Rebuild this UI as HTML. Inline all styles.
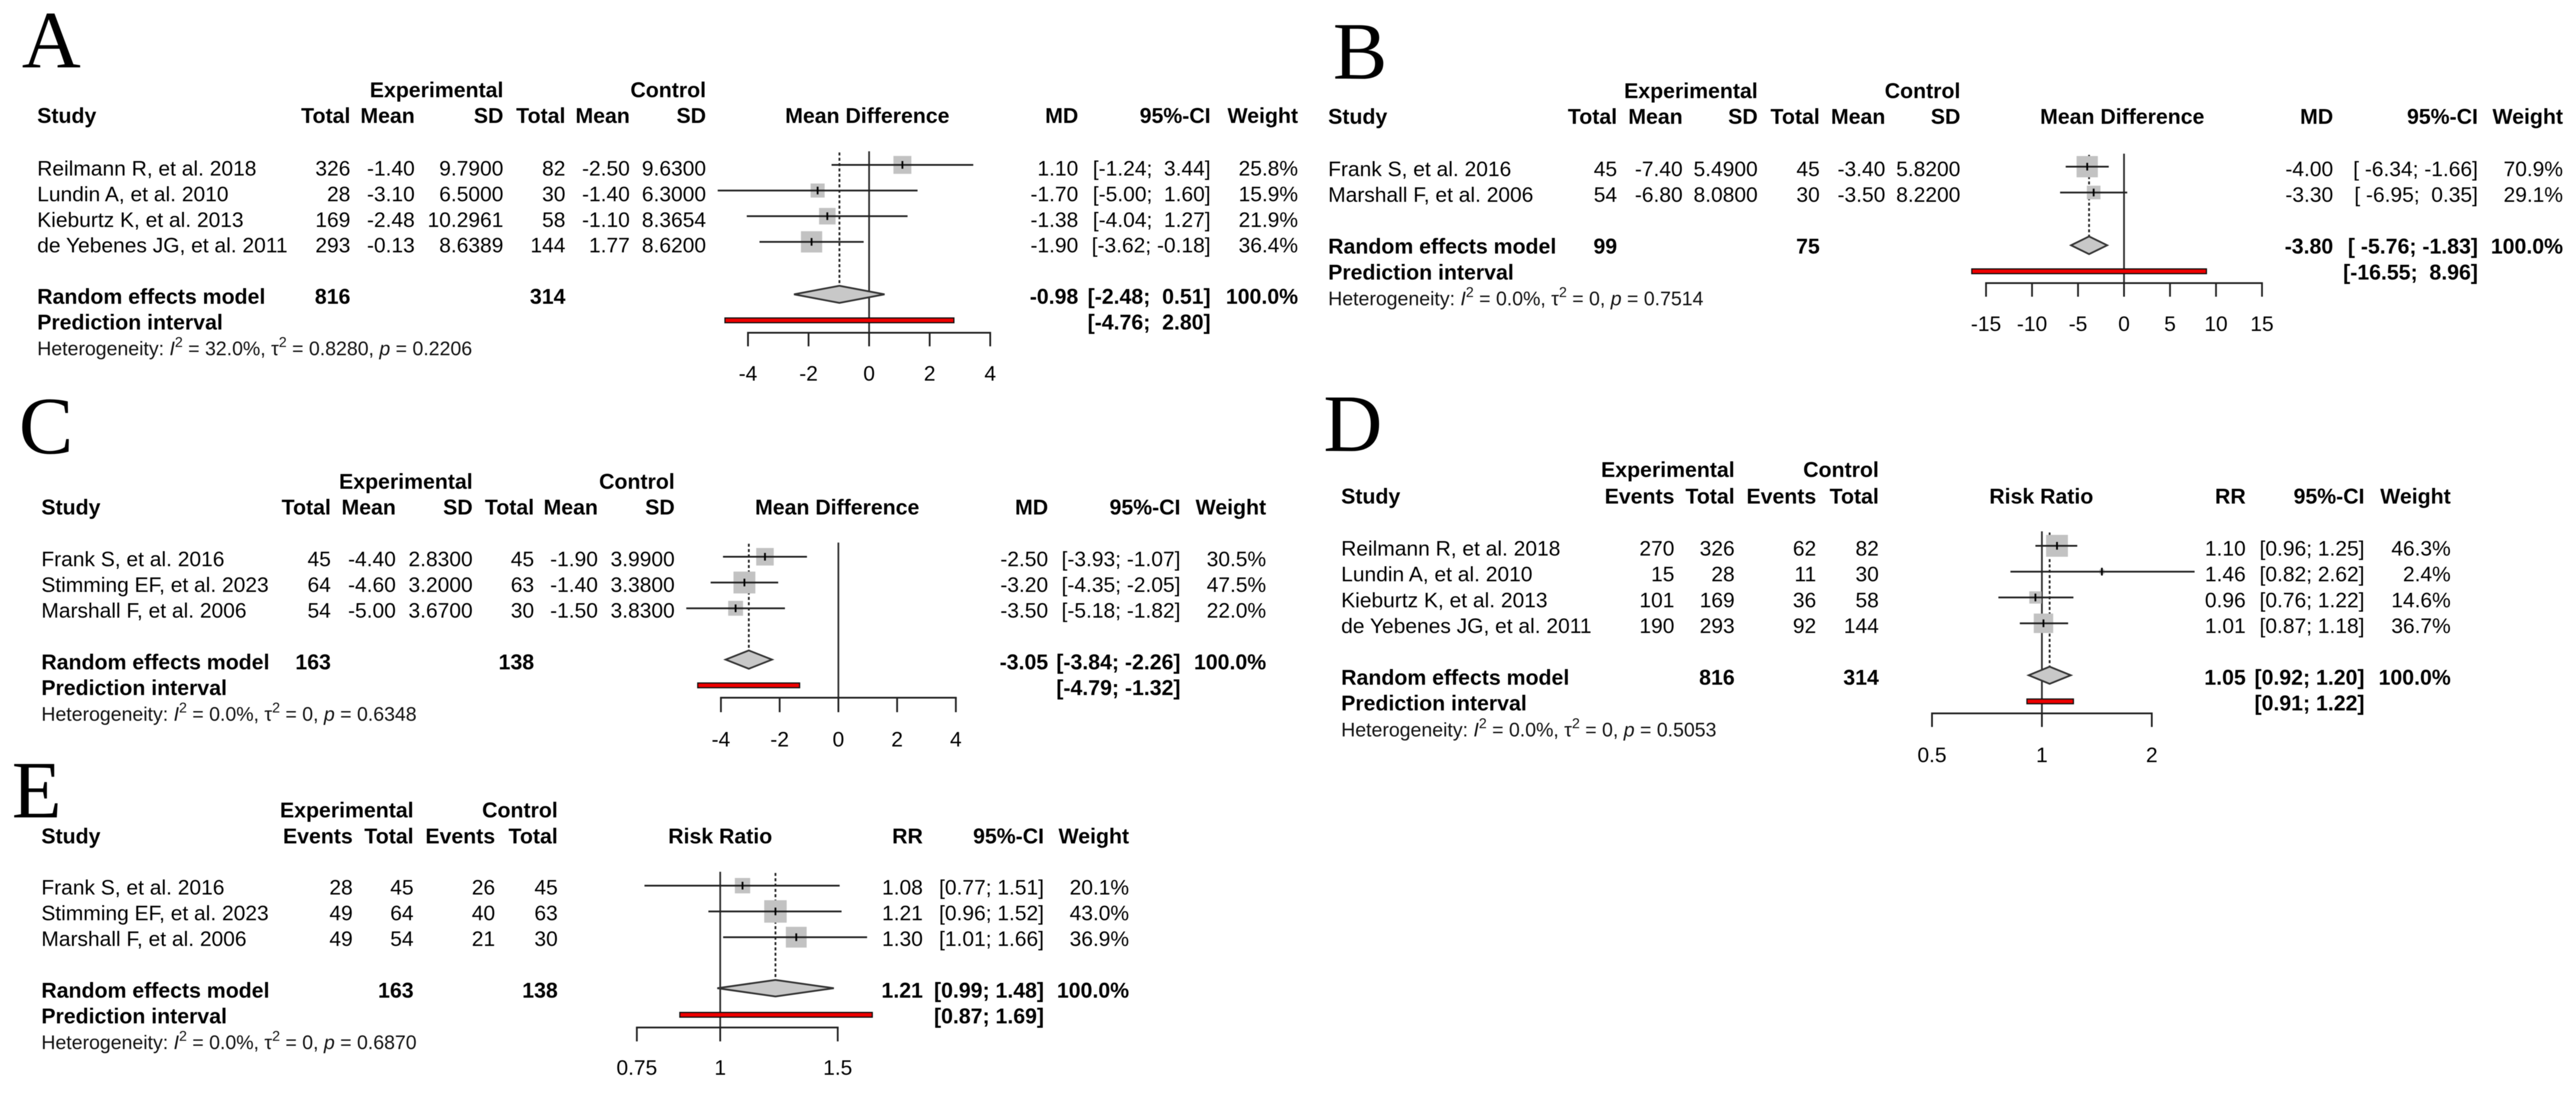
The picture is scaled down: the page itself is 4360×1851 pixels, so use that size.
<!DOCTYPE html>
<html lang="en">
<head>
<meta charset="utf-8">
<title>Forest plots A-E</title>
<style>
html,body{margin:0;padding:0;background:#fff;}
svg{display:block;filter:blur(0.5px);}
text{font-family:"Liberation Sans",sans-serif;font-size:35.5px;fill:#000;white-space:pre;}
text.b{font-weight:bold;font-size:36px;fill:#000;}
text.het{font-size:33px;fill:#111;}
text.letter{font-family:"Liberation Serif",serif;font-size:138px;fill:#000;}
</style>
</head>
<body>
<svg id="chart" xmlns="http://www.w3.org/2000/svg" width="4360" height="1851" viewBox="0 0 4360 1851">
<rect x="0" y="0" width="4360" height="1851" fill="#ffffff"/>
<g id="panel-a"></g>
<g id="panel-b"></g>
<g id="panel-c"></g>
<g id="panel-d"></g>
<g id="panel-e"></g>
</svg>
<script>
/* ---------- Panel A data ---------- */
const aStudies = ["Reilmann R, et al. 2018","Lundin A, et al. 2010","Kieburtz K, et al. 2013","de Yebenes JG, et al. 2011"];
const aCol1 = ["326","28","169","293"];
const aCol2 = ["-1.40","-3.10","-2.48","-0.13"];
const aCol3 = ["9.7900","6.5000","10.2961","8.6389"];
const aCol4 = ["82","30","58","144"];
const aCol5 = ["-2.50","-1.40","-1.10","1.77"];
const aCol6 = ["9.6300","6.3000","8.3654","8.6200"];
const aEffect = [1.10,-1.70,-1.38,-1.90];
const aLow = [-1.24,-5.00,-4.04,-3.62];
const aHigh = [3.44,1.60,1.27,-0.18];
const aWeight = [25.8,15.9,21.9,36.4];
const aSummary = [-0.98,-2.48,0.51];
const aPrediction = [-4.76,2.80];
const aTotals = ["816","314"];
const aTicks = [-4,-2,0,2,4];
const aHet = ["32.0%","0.8280","0.2206"];

/* ---------- Panel B data ---------- */
const bStudies = ["Frank S, et al. 2016","Marshall F, et al. 2006"];
const bCol1 = ["45","54"];
const bCol2 = ["-7.40","-6.80"];
const bCol3 = ["5.4900","8.0800"];
const bCol4 = ["45","30"];
const bCol5 = ["-3.40","-3.50"];
const bCol6 = ["5.8200","8.2200"];
const bEffect = [-4.00,-3.30];
const bLow = [-6.34,-6.95];
const bHigh = [-1.66,0.35];
const bWeight = [70.9,29.1];
const bSummary = [-3.80,-5.76,-1.83];
const bPrediction = [-16.55,8.96];
const bTotals = ["99","75"];
const bTicks = [-15,-10,-5,0,5,10,15];
const bHet = ["0.0%","0","0.7514"];

/* ---------- Panel C data ---------- */
const cStudies = ["Frank S, et al. 2016","Stimming EF, et al. 2023","Marshall F, et al. 2006"];
const cCol1 = ["45","64","54"];
const cCol2 = ["-4.40","-4.60","-5.00"];
const cCol3 = ["2.8300","3.2000","3.6700"];
const cCol4 = ["45","63","30"];
const cCol5 = ["-1.90","-1.40","-1.50"];
const cCol6 = ["3.9900","3.3800","3.8300"];
const cEffect = [-2.50,-3.20,-3.50];
const cLow = [-3.93,-4.35,-5.18];
const cHigh = [-1.07,-2.05,-1.82];
const cWeight = [30.5,47.5,22.0];
const cSummary = [-3.05,-3.84,-2.26];
const cPrediction = [-4.79,-1.32];
const cTotals = ["163","138"];
const cTicks = [-4,-2,0,2,4];
const cHet = ["0.0%","0","0.6348"];

/* ---------- Panel D data ---------- */
const dStudies = ["Reilmann R, et al. 2018","Lundin A, et al. 2010","Kieburtz K, et al. 2013","de Yebenes JG, et al. 2011"];
const dCol1 = ["270","15","101","190"];
const dCol2 = ["326","28","169","293"];
const dCol3 = ["62","11","36","92"];
const dCol4 = ["82","30","58","144"];
const dEffect = [1.10,1.46,0.96,1.01];
const dLow = [0.96,0.82,0.76,0.87];
const dHigh = [1.25,2.62,1.22,1.18];
const dWeight = [46.3,2.4,14.6,36.7];
const dSummary = [1.05,0.92,1.20];
const dPrediction = [0.91,1.22];
const dTotals = ["816","314"];
const dTicks = [0.5,1,2];
const dHet = ["0.0%","0","0.5053"];

/* ---------- Panel E data ---------- */
const eStudies = ["Frank S, et al. 2016","Stimming EF, et al. 2023","Marshall F, et al. 2006"];
const eCol1 = ["28","49","49"];
const eCol2 = ["45","64","54"];
const eCol3 = ["26","40","21"];
const eCol4 = ["45","63","30"];
const eEffect = [1.08,1.21,1.30];
const eLow = [0.77,0.96,1.01];
const eHigh = [1.51,1.52,1.66];
const eWeight = [20.1,43.0,36.9];
const eSummary = [1.21,0.99,1.48];
const ePrediction = [0.87,1.69];
const eTotals = ["163","138"];
const eTicks = [0.75,1,1.5];
const eHet = ["0.0%","0","0.6870"];

const MD_HEADS = ["Total","Mean","SD","Total","Mean","SD"];
const RR_HEADS = ["Events","Total","Events","Total"];

const NS = "http://www.w3.org/2000/svg";
function mk(tag, attrs, parent){
  const n = document.createElementNS(NS, tag);
  for (const k in attrs) n.setAttribute(k, attrs[k]);
  parent.appendChild(n);
  return n;
}
function txt(parent, x, y, str, anchor, cls){
  const n = mk("text", {x:x, y:y, "text-anchor":anchor, class:cls||""}, parent);
  n.textContent = str;
  return n;
}
function scaleFor(c){
  if (c.log) return v => c.zeroX + Math.log2(v) * c.unit;
  return v => c.zeroX + v * c.unit;
}
function ciLabels(lows, highs){
  const f = v => v.toFixed(2);
  const maxLow = Math.max.apply(null, lows.map(v => f(v).length));
  const maxHigh = Math.max.apply(null, highs.map(v => f(v).length));
  return lows.map((lo, i) => {
    const l = f(lo), h = f(highs[i]);
    return "[" + " ".repeat(maxLow - l.length) + l + "; " + " ".repeat(maxHigh - h.length) + h + "]";
  });
}

function drawPanel(c){
  const g = document.getElementById(c.id);
  const x = scaleFor(c);

  const letter = txt(g, c.letterX, c.letterY, c.letter, "start", "letter");
  
  

  /* header */
  const exp = txt(g, c.expX, c.h1, "Experimental", "end", "b");
  
  
  const ctl = txt(g, c.colX[c.colX.length-1], c.h1, "Control", "end", "b");
  
  
  const st = txt(g, c.studyX, c.h2, "Study", "start", "b");
  
  
  c.heads.forEach((h, i) => {
    const t = txt(g, c.colX[i], c.h2, h, "end", "b");
    
    
  });
  const et = txt(g, c.effectTitleX, c.h2, c.effectTitle, "middle", "b");
  
  
  const ml = txt(g, c.mdX, c.h2, c.effectAbbr, "end", "b");
  
  
  const cl = txt(g, c.ciX, c.h2, "95%-CI", "end", "b");
  
  
  const wl = txt(g, c.wX, c.h2, "Weight", "end", "b");
  
  

  /* text rows */
  const n = c.studies.length;
  const rowY = i => c.row1 + i * c.step;
  const allLow = c.low.concat([c.summary[1], c.prediction[0]]);
  const allHigh = c.high.concat([c.summary[2], c.prediction[1]]);
  const ci = ciLabels(allLow, allHigh);
  const maxW = Math.max.apply(null, c.weight);
  for (let i = 0; i < n; i++){
    const y = rowY(i);
    const s = txt(g, c.studyX, y, c.studies[i], "start");
    
    
    c.cols.forEach((col, j) => {
      const t = txt(g, c.colX[j], y, col[i], "end");
      
      
    });
    const e = txt(g, c.mdX, y, c.effect[i].toFixed(2), "end");
    
    
    const ct = txt(g, c.ciX, y, ci[i], "end");
    
    
    const wt = txt(g, c.wX, y, c.weight[i].toFixed(1) + "%", "end");
    
    
  }

  /* summary rows */
  const reY = rowY(n + 1), piY = rowY(n + 2), hetY = rowY(n + 3), tickY = rowY(n + 4);
  const re = txt(g, c.studyX, reY, "Random effects model", "start", "b");
  
  
  const t1 = txt(g, c.colX[c.totalCols[0]], reY, c.totals[0], "end", "b");
  
  
  const t2 = txt(g, c.colX[c.totalCols[1]], reY, c.totals[1], "end", "b");
  
  
  const se = txt(g, c.mdX, reY, c.summary[0].toFixed(2), "end", "b");
  
  
  const sc = txt(g, c.ciX, reY, ci[n], "end", "b");
  
  
  const sw = txt(g, c.wX, reY, "100.0%", "end", "b");
  
  
  const pl = txt(g, c.studyX, piY, "Prediction interval", "start", "b");
  
  
  const pc = txt(g, c.ciX, piY, ci[n + 1], "end", "b");
  
  

  /* heterogeneity */
  const het = mk("text", {x:c.studyX, y:hetY, class:"het"}, g);
  
  
  const parts = [
    ["Heterogeneity: ",""],["I","i"],["2","s"],[" = " + c.het[0] + ", ",""],
    ["\u03C4",""],["2","s"],[" = " + c.het[1] + ", ",""],["p","i"],[" = " + c.het[2],""]
  ];
  parts.forEach(p => {
    const ts = mk("tspan", {}, het);
    ts.textContent = p[0];
    if (p[1] === "i") ts.setAttribute("font-style", "italic");
    if (p[1] === "s") { ts.setAttribute("font-size", "24"); ts.setAttribute("dy", "-14"); }
    else if (ts.previousSibling && ts.previousSibling.getAttribute("font-size")) ts.setAttribute("dy", "14");
  });

  /* reference lines */
  const zero = x(c.refValue);
  const refL = mk("line", {x1:zero, x2:zero, y1:c.refTop, y2:c.tickBottom, stroke:"#333", "stroke-width":3}, g);
  
  
  const sumX = x(c.summary[0]);
  const dash = mk("line", {x1:sumX, x2:sumX, y1:c.refTop+2, y2:c.diamondY-c.diamondH, stroke:"#222", "stroke-width":3, "stroke-dasharray":"5 4"}, g);
  
  

  /* study marks */
  for (let i = 0; i < n; i++){
    const ym = rowY(i) - c.markOff;
    const xm = x(c.effect[i]);
    const size = c.sqMax * Math.sqrt(c.weight[i] / maxW);
    const sq = mk("rect", {x:xm-size/2, y:ym-size/2, width:size, height:size, fill:"#c2c2c2"}, g);
    
    
    const ln = mk("line", {x1:x(c.low[i]), x2:x(c.high[i]), y1:ym, y2:ym, stroke:"#222", "stroke-width":3}, g);
    
    
    const tk = mk("line", {x1:xm, x2:xm, y1:ym-6.5, y2:ym+6.5, stroke:"#000", "stroke-width":3}, g);
    
    
  }

  /* summary diamond */
  const dl = x(c.summary[1]), dr = x(c.summary[2]);
  const dia = mk("polygon", {points:[dl+","+c.diamondY, sumX+","+(c.diamondY-c.diamondH), dr+","+c.diamondY, sumX+","+(c.diamondY+c.diamondH)].join(" "), fill:"#c8c8c8", stroke:"#333", "stroke-width":3}, g);
  
  

  /* prediction interval */
  const pLo = x(c.prediction[0]), pHi = x(c.prediction[1]);
  const bar = mk("rect", {x:pLo, y:c.predY-4, width:pHi-pLo, height:8, fill:"#ee0000", stroke:"#111", "stroke-width":2}, g);
  
  

  /* axis */
  const ticks = c.ticks;
  const ax = mk("line", {x1:x(ticks[0])-1.5, x2:x(ticks[ticks.length-1])+1.5, y1:c.axisY, y2:c.axisY, stroke:"#222", "stroke-width":3}, g);
  
  
  ticks.forEach(v => {
    const tx = x(v);
    const tm = mk("line", {x1:tx, x2:tx, y1:c.axisY, y2:c.tickBottom, stroke:"#222", "stroke-width":3}, g);
    
    
    const tl = txt(g, tx, tickY, String(v), "middle");
    
    
  });
}

drawPanel({
  id:"panel-a", letter:"A", letterX:37, letterY:114, log:false, zeroX:1471, unit:51.25, refValue:0,
  heads:MD_HEADS, effectTitle:"Mean Difference", effectAbbr:"MD", totalCols:[0,3],
  studyX:63, expX:852, colX:[593,702,852,957,1066,1195], effectTitleX:1468, mdX:1825, ciX:2049, wX:2197,
  h1:164.5, h2:208, row1:297, step:43.4, markOff:18, sqMax:36, refTop:256, axisY:563, tickBottom:586,
  diamondY:498, diamondH:14.5, predY:542,
  studies:aStudies, cols:[aCol1,aCol2,aCol3,aCol4,aCol5,aCol6], effect:aEffect, low:aLow, high:aHigh, weight:aWeight,
  summary:aSummary, prediction:aPrediction, totals:aTotals, ticks:aTicks, het:aHet
});
drawPanel({
  id:"panel-b", letter:"B", letterX:2256, letterY:133, log:false, zeroX:3595, unit:15.57, refValue:0,
  heads:MD_HEADS, effectTitle:"Mean Difference", effectAbbr:"MD", totalCols:[0,3],
  studyX:2248, expX:2975, colX:[2737,2848,2975,3080,3191,3318], effectTitleX:3592, mdX:3949, ciX:4194, wX:4338,
  h1:166, h2:209.5, row1:298, step:43.7, markOff:16, sqMax:36, refTop:260, axisY:479, tickBottom:502,
  diamondY:415, diamondH:15, predY:459,
  studies:bStudies, cols:[bCol1,bCol2,bCol3,bCol4,bCol5,bCol6], effect:bEffect, low:bLow, high:bHigh, weight:bWeight,
  summary:bSummary, prediction:bPrediction, totals:bTotals, ticks:bTicks, het:bHet
});
drawPanel({
  id:"panel-c", letter:"C", letterX:32, letterY:767, log:false, zeroX:1419, unit:49.7, refValue:0,
  heads:MD_HEADS, effectTitle:"Mean Difference", effectAbbr:"MD", totalCols:[0,3],
  studyX:70, expX:800, colX:[560,670,800,904,1012,1142], effectTitleX:1417, mdX:1774, ciX:1998, wX:2143,
  h1:827, h2:870.7, row1:958, step:43.6, markOff:16, sqMax:37, refTop:918, axisY:1180.5, tickBottom:1205,
  diamondY:1116, diamondH:15.5, predY:1159.6,
  studies:cStudies, cols:[cCol1,cCol2,cCol3,cCol4,cCol5,cCol6], effect:cEffect, low:cLow, high:cHigh, weight:cWeight,
  summary:cSummary, prediction:cPrediction, totals:cTotals, ticks:cTicks, het:cHet
});
drawPanel({
  id:"panel-d", letter:"D", letterX:2240, letterY:763, log:true, zeroX:3456, unit:186, refValue:1,
  heads:RR_HEADS, effectTitle:"Risk Ratio", effectAbbr:"RR", totalCols:[1,3],
  studyX:2270, expX:2936, colX:[2834,2936,3074,3180], effectTitleX:3455, mdX:3801, ciX:4002, wX:4148,
  h1:807, h2:852, row1:940, step:43.7, markOff:16.5, sqMax:37, refTop:899, axisY:1207, tickBottom:1230,
  diamondY:1142.5, diamondH:14.5, predY:1186.7,
  studies:dStudies, cols:[dCol1,dCol2,dCol3,dCol4], effect:dEffect, low:dLow, high:dHigh, weight:dWeight,
  summary:dSummary, prediction:dPrediction, totals:dTotals, ticks:dTicks, het:dHet
});
drawPanel({
  id:"panel-e", letter:"E", letterX:20, letterY:1383, log:true, zeroX:1219, unit:340, refValue:1,
  heads:RR_HEADS, effectTitle:"Risk Ratio", effectAbbr:"RR", totalCols:[1,3],
  studyX:70, expX:700, colX:[597,700,838,944], effectTitleX:1219, mdX:1562, ciX:1767, wX:1911,
  h1:1383, h2:1427, row1:1513.5, step:43.6, markOff:15, sqMax:38, refTop:1475, axisY:1738.5, tickBottom:1762,
  diamondY:1672, diamondH:14, predY:1717,
  studies:eStudies, cols:[eCol1,eCol2,eCol3,eCol4], effect:eEffect, low:eLow, high:eHigh, weight:eWeight,
  summary:eSummary, prediction:ePrediction, totals:eTotals, ticks:eTicks, het:eHet
});
</script>
</body>
</html>
